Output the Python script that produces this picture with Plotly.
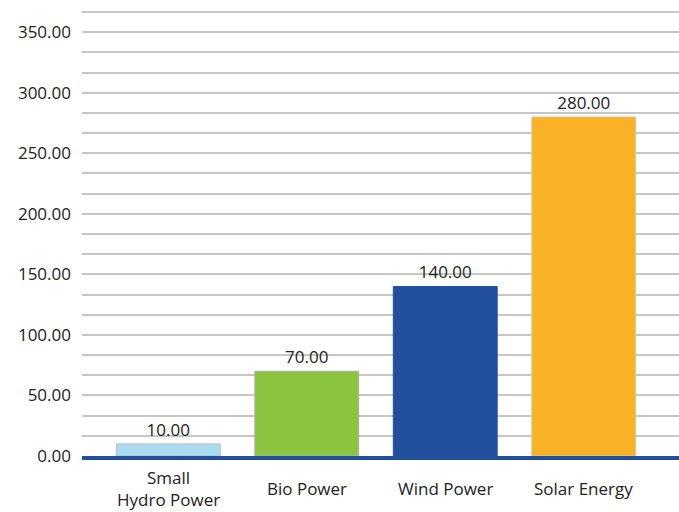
import numpy as np
import plotly.graph_objects as go

# Installed renewable capacity by source
categories = ["Small Hydro Power", "Bio Power", "Wind Power", "Solar Energy"]
category_labels = ["Small<br>Hydro Power", "Bio Power", "Wind Power", "Solar Energy"]
values = [10.00, 70.00, 140.00, 280.00]
bar_colors = ["#a9dcf0", "#8cc43f", "#214f9c", "#f9b228"]
outline_colors = ["#bcbcbc", "#b0b0b0", "#214f9c", "#d8c8a0"]

y_ticks = np.arange(0, 351, 50)
grid_lines = np.arange(0, 370, 50 / 3)

FONT = "Open Sans, Noto Sans, sans-serif"

fig = go.Figure(
    go.Bar(
        x=categories,
        y=values,
        width=0.75,
        marker=dict(color=bar_colors, line=dict(color=outline_colors, width=1)),
        text=[f"{v:.2f}" for v in values],
        textposition="outside",
        textfont=dict(family=FONT, size=17, color="#222222"),
        cliponaxis=False,
    )
)

# Category names, vertically centred under each bar
for cat, label in zip(categories, category_labels):
    fig.add_annotation(
        x=cat, xref="x", y=0, yref="paper",
        yshift=-32, yanchor="middle", xanchor="center",
        text=label, showarrow=False, align="center",
        font=dict(family=FONT, size=17, color="#222222"),
    )

fig.update_layout(
    width=679,
    height=512,
    margin=dict(l=82, r=0, t=8, b=56),
    paper_bgcolor="white",
    plot_bgcolor="white",
    showlegend=False,
    font=dict(family=FONT, size=17, color="#222222"),
    bargap=0.25,
)

fig.update_xaxes(
    range=[-0.623, 3.688],
    showgrid=False,
    showline=True,
    linecolor="#214f9c",
    linewidth=4,
    ticks="",
    showticklabels=False,
)

fig.update_yaxes(
    range=[0, 370],
    tickmode="array",
    tickvals=y_ticks,
    ticktext=[f"{v:.2f}" for v in y_ticks],
    tickfont=dict(size=17, color="#222222"),
    ticklabelstandoff=10,
    showgrid=True,
    gridcolor="#c6c6c6",
    gridwidth=2,
    zeroline=False,
    showline=False,
    minor=dict(tickmode="array", tickvals=grid_lines, showgrid=True, gridcolor="#c6c6c6", gridwidth=2),
)

fig.write_html("out.html")
